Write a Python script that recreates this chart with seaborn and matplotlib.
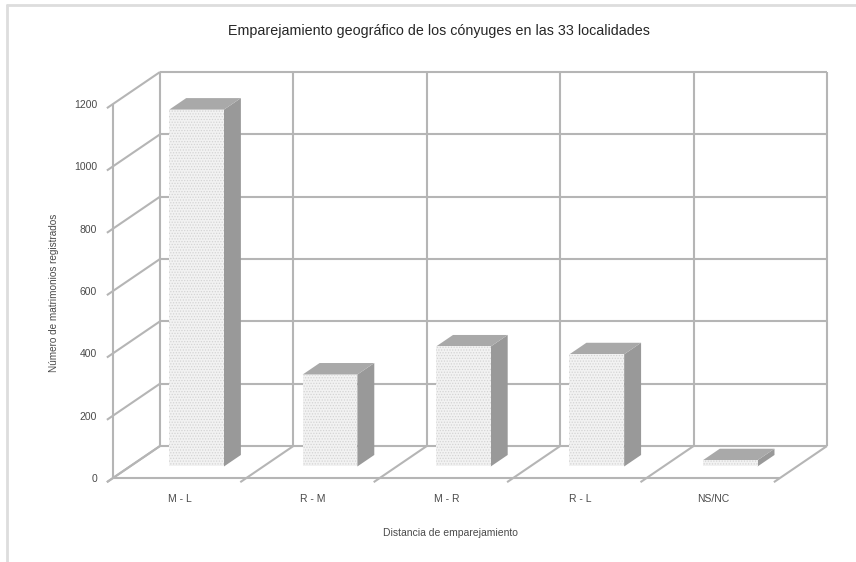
import matplotlib
matplotlib.use("Agg")
import matplotlib.pyplot as plt
import seaborn as sns
from matplotlib.transforms import ScaledTranslation
from matplotlib.patches import Polygon

# Datos
categorias = ["M - L", "R - M", "M - R", "R - L", "NS/NC"]
matrimonios = [1145, 295, 385, 360, 20]
marcas_y = [0, 200, 400, 600, 800, 1000, 1200]
titulo = "Emparejamiento geográfico de los cónyuges en las 33 localidades"
etiqueta_x = "Distancia de emparejamiento"
etiqueta_y = "Número de matrimonios registrados"

sns.set_style("white")
plt.rcParams["font.family"] = ["Liberation Sans", "DejaVu Sans"]
plt.rcParams["hatch.linewidth"] = 0.6

W, H = 856, 562
fig = plt.figure(figsize=(W / 100, H / 100), dpi=100)

# Front plane of the 3-D box (pixels) and depth offset of the back wall
FX0, FX1 = 113, 780
FY0, FY1 = 478, 104
DX, DY = 47, 32
BAR_FRONT, BAR_DEPTH = 0.36, 0.36
GRID = "#b5b5b5"
TEXT = "#4a4a4a"

ax = fig.add_axes([FX0 / W, (H - FY0) / H, (FX1 - FX0) / W, (FY0 - FY1) / H], zorder=2)
ov = fig.add_axes([0, 0, 1, 1], zorder=1)
ov.set_xlim(0, W)
ov.set_ylim(H, 0)
ov.axis("off")

sns.barplot(x=categorias, y=matrimonios, ax=ax, width=0.41, color="#f2f2f2",
            saturation=1, hatch="......", edgecolor="#d4d4d4", linewidth=0)
ax.set_xlim(-0.5, len(categorias) - 0.5)
ax.set_ylim(marcas_y[0], marcas_y[-1])
ax.axis("off")
ax.patch.set_alpha(0)


def px(x, v, depth):
    dx, dy = ax.transData.transform((x, v))
    return (dx + depth * DX, H - dy - depth * DY)


def line(p, q, **kw):
    ov.plot([p[0], q[0]], [p[1], q[1]], color=GRID, lw=1.5, solid_capstyle="butt", **kw)


xlo, xhi = -0.5, len(categorias) - 0.5
ylo, yhi = marcas_y[0], marcas_y[-1]

# Back wall: horizontal and vertical grid
for v in marcas_y:
    line(px(xlo, v, 1), px(xhi, v, 1))
for k in range(len(categorias) + 1):
    line(px(xlo + k, ylo, 1), px(xlo + k, yhi, 1))

# Left wall: depth lines with small ticks, and the value axis
for v in marcas_y:
    line(px(xlo, v, -0.13), px(xlo, v, 1))
    ov.text(px(xlo, v, 0)[0] - 16, px(xlo, v, 0)[1] + 1, f"{v}", ha="right", va="center",
            fontsize=7.5, color=TEXT)
line(px(xlo, ylo, 0), px(xlo, yhi, 0))

# Floor: front edge and category separators
line(px(xlo, ylo, 0), px(xhi, ylo, 0))
for k in range(len(categorias) + 1):
    line(px(xlo + k, ylo, -0.13), px(xlo + k, ylo, 1))

# 3-D bars: shift the front faces back and add top and side faces
shift = ScaledTranslation(BAR_FRONT * DX / 100, BAR_FRONT * DY / 100, fig.dpi_scale_trans)
for p in ax.patches:
    p.set_transform(ax.transData + shift)
    x0, x1 = p.get_x(), p.get_x() + p.get_width()
    y0, y1 = p.get_y(), p.get_y() + p.get_height()
    a, b = BAR_FRONT, BAR_FRONT + BAR_DEPTH
    side = [px(x1, y0, a), px(x1, y1, a), px(x1, y1, b), px(x1, y0, b)]
    top = [px(x0, y1, a), px(x1, y1, a), px(x1, y1, b), px(x0, y1, b)]
    ov.add_patch(Polygon(side, closed=True, fc="#999999", ec="none", zorder=5))
    ov.add_patch(Polygon(top, closed=True, fc="#a9a9a9", ec="none", zorder=5))

# Category labels
for i, c in enumerate(categorias):
    x, y = px(i, ylo, 0)
    ov.text(x, y + 21, c, ha="center", va="center", fontsize=7.5, color=TEXT)

# Titles
ov.text(439, 31, titulo, ha="center", va="center", fontsize=10.3, color="#262626")
ov.text(450, 533, etiqueta_x, ha="center", va="center", fontsize=7.5, color=TEXT)
ov.text(54, 293, etiqueta_y, ha="center", va="center", rotation=90, fontsize=7.2,
        color=TEXT)

# Chart frame
ov.plot([7, 7], [5, H], color="#dddddd", lw=2)
ov.plot([7, W], [5, 5], color="#dddddd", lw=2)

fig.savefig("out.png", dpi=100)
